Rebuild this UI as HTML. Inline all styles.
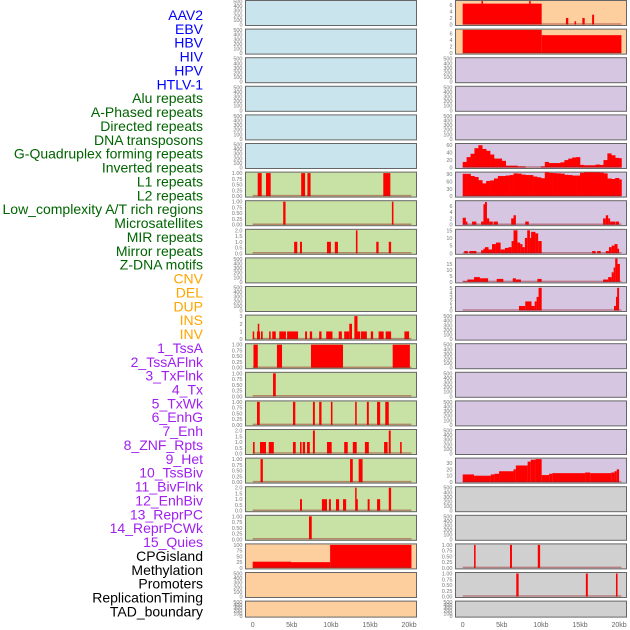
<!DOCTYPE html>
<html><head><meta charset="utf-8"><style>
html,body{margin:0;padding:0;background:#fff;width:630px;height:630px;overflow:hidden}
svg{display:block;font-family:"Liberation Sans",sans-serif}
</style></head><body>
<svg id="chart" width="630" height="630" viewBox="0 0 630 630"></svg>
<script>
// ---------- DATA ----------
const trackLabels=["AAV2","EBV","HBV","HIV","HPV","HTLV-1","Alu repeats","A-Phased repeats","Directed repeats","DNA transposons","G-Quadruplex forming repeats","Inverted repeats","L1 repeats","L2 repeats","Low_complexity A/T rich regions","Microsatellites","MIR repeats","Mirror repeats","Z-DNA motifs","CNV","DEL","DUP","INS","INV","1_TssA","2_TssAFlnk","3_TxFlnk","4_Tx","5_TxWk","6_EnhG","7_Enh","8_ZNF_Rpts","9_Het","10_TssBiv","11_BivFlnk","12_EnhBiv","13_ReprPC","14_ReprPCWk","15_Quies","CPGisland","Methylation","Promoters","ReplicationTiming","TAD_boundary"];
const labelGroups=[6,13,5,15,5];
const xTickKb=[0,5,10,15,20];
const xTickLabels=["0","5kb","10kb","15kb","20kb"];
// segments [startKb,endKb,value]
const leftRow6=[[0.64,1.15,1],[1.7,2.3,1],[6.2,6.7,1],[7.0,7.4,1],[16.7,17.6,1]];
const leftRow7=[[3.9,4.2,1],[17.8,18.0,1]];
const leftRow8=[[5.3,5.7,1],[6.05,6.3,1],[9.5,10.0,1],[10.5,10.9,1],[13.2,13.4,2],[15.8,16.1,1],[17.4,17.7,1]];
const leftRow11=[[0,0.13,1],[0.55,0.93,1],[0.65,0.8,2],[1.06,1.28,1],[2.1,2.3,1],[2.5,2.95,1],[3.4,4.25,1],[4.4,5.8,1],[6.7,6.95,1],[7.3,7.6,1],[8.5,8.8,1],[9.4,10.2,1],[11.0,11.4,1],[11.7,12.35,1],[12.35,12.7,2],[13.0,13.4,3],[13.4,13.75,1],[13.85,14.6,1],[15.1,15.4,1],[16.1,16.75,1],[17.0,17.7,1],[19.4,20.0,1]];
const leftRow12=[[0.1,0.65,1],[3.1,3.75,1],[7.45,11.55,1],[17.9,20.1,1]];
const leftRow13=[[2.6,2.95,1]];
const leftRow14=[[0.55,0.9,1],[5.15,5.45,1],[7.7,7.95,1],[8.5,8.8,1],[10.0,10.2,1],[13.1,13.3,1],[14.6,14.85,1],[15.9,16.3,1],[16.95,17.4,1]];
const leftRow15=[[0.04,0.25,1],[0.93,1.7,1],[2.05,2.7,1],[5.15,5.5,1],[6.05,6.25,1],[6.4,6.7,1],[6.95,7.3,1],[7.7,7.95,2],[9.5,10.1,1],[11.7,12.15,1],[12.8,13.3,1],[14.35,14.85,1],[16.8,17.25,1],[17.4,17.65,2],[18.85,19.05,1]];
const leftRow16=[[1.0,1.3,1],[12.45,12.8,1],[13.55,14.05,1]];
const leftRow17=[[6.05,6.3,1],[8.85,9.5,1],[9.75,10.0,1],[10.65,11.05,1],[11.55,11.95,1],[13.1,13.25,2],[13.25,13.4,1],[14.7,14.95,1],[15.9,16.3,1],[17.4,17.7,2]];
const leftRow18=[[7.2,7.55,1]];
const cpgIsland=[[0,4.9,27],[4.9,9.9,25],[9.9,20.3,100]];
const rightRow0=[[0,10.1,6.4],[2.4,2.6,7.2],[8.5,8.7,7.2],[13.2,13.5,2],[14.3,14.5,1],[15.3,15.6,2],[16.55,16.8,3]];
const rightRow1=[[0,10.1,7.1],[10.1,20.3,5.5]];
const g4Values=[15,28,37,52,60,50,45,35,24,24,18,5,5,5,3,3,0,0,0,0,3,15,12,12,12,14,20,24,27,28,7,6,6,6,8,7,20,38,33,26,25];
const l1Values=[91,91,82,78,65,52,62,64,72,82,82,84,86,93,92,88,86,86,80,77,73,97,95,94,93,92,87,86,84,84,95,97,97,97,97,96,93,72,70,74,68];
const rightRow7=[[0,0.4,2.2],[0.4,0.6,1],[1.2,1.75,1],[2.35,2.65,1],[2.65,2.85,6.5],[2.85,3.1,7.2],[3.1,3.4,2],[3.4,3.85,1],[3.95,4.5,1],[6.2,6.5,2],[6.5,6.8,3],[8.0,8.45,1],[17.95,18.3,2],[18.3,18.6,3],[18.6,18.85,2],[18.85,19.5,1],[19.55,20.0,1]];
const rightRow8=[[0.2,0.65,1.5],[0.85,1.75,1.5],[2.35,2.65,2],[2.65,2.85,3],[2.85,3.3,4],[3.3,3.75,2.5],[3.75,4.25,6],[4.25,4.85,7],[4.85,5.4,2.5],[5.4,5.85,3.5],[5.85,6.25,4],[6.25,6.5,8],[6.5,7.0,15],[7.0,7.35,7],[7.35,7.65,6],[7.65,7.95,4],[7.95,8.25,10],[8.25,8.6,15],[8.6,8.75,10],[8.75,9.3,14],[9.3,9.65,13],[9.65,10.1,8],[16.55,17.0,1.5],[17.2,17.65,1.5],[18.3,18.7,1.5],[18.7,19.05,4],[19.05,19.4,5],[19.4,19.8,6],[19.8,20.0,3]];
const rightRow9=[[0,0.6,0.5],[0.6,1.45,2],[1.45,2.2,4],[2.2,2.45,3],[2.45,3.25,3],[4.35,5.2,2.5],[6.4,6.8,3],[6.8,7.45,2],[9.55,10.1,2.5],[17.95,18.6,2],[18.6,19.05,4],[19.05,19.3,8],[19.3,19.5,12],[19.5,19.8,19.5],[19.8,20.1,15]];
const rightRow10=[[7.2,8.0,1],[8.0,8.8,2],[8.8,9.2,1],[9.2,9.45,2],[9.45,9.7,3],[9.7,10.1,5],[19.35,19.6,1],[19.6,19.75,3],[19.75,20.0,5]];
const rightRow16=[[0,1.45,12],[1.45,3.6,10],[3.6,4.05,12],[4.05,4.65,13],[4.65,6.5,17],[6.5,6.8,20],[6.8,8.3,26],[8.3,8.7,32],[8.7,9.3,35],[9.3,10.1,36],[10.1,11.05,11],[11.05,11.45,13],[11.45,15.65,14],[15.65,16.3,15],[16.3,19.0,14],[19.0,19.4,15],[19.4,19.7,17],[19.7,20.0,20]];
const rightRow19=[[1.45,1.65,1],[6.05,6.3,1],[9.6,9.9,1]];
const rightRow20=[[6.85,7.15,1],[15.75,16.0,1],[19.6,19.8,1]];

// ---------- LAYOUT ----------
const NS="http://www.w3.org/2000/svg";
const svg=document.getElementById("chart");
function mk(tag,attrs,parent){const e=document.createElementNS(NS,tag);for(const k in attrs)e.setAttribute(k,attrs[k]);(parent||svg).appendChild(e);return e;}
const colX=[245.5,455.5], panelW=171;
function rowTop(r){return 0.5+28.6*r;}
function xScale(col,kb){return colX[col]+7.2+kb*7.82;}
const C={blue:"#c9e4ec",green:"#c8e1a5",orange:"#fecf9e",purple:"#d6c6e2",gray:"#d0d0d0"};
const E500=[0,100,200,300,400,500];
const T01=[0,0.25,0.5,0.75,1],T02=[0,0.5,1,1.5,2];
const panels=[];
function P(col,row,bg,ymax,ticks,dec,kind,data,name){panels.push({col,row,bg,ymax,ticks,dec,kind,data,name});}
for(let r=0;r<6;r++)P(0,r,C.blue,500,E500,0,null,null,"left-empty-"+r);
P(0,6,C.green,1,T01,2,"seg",leftRow6,"left-row-6");
P(0,7,C.green,1,T01,2,"seg",leftRow7,"left-row-7");
P(0,8,C.green,2,T02,1,"seg",leftRow8,"left-row-8");
P(0,9,C.green,500,E500,0,null,null,"left-empty-9");
P(0,10,C.green,500,E500,0,null,null,"left-empty-10");
P(0,11,C.green,3,[0,1,2,3],0,"seg",leftRow11,"left-row-11");
P(0,12,C.green,1,T01,2,"seg",leftRow12,"left-row-12");
P(0,13,C.green,1,T01,2,"seg",leftRow13,"left-row-13");
P(0,14,C.green,1,T01,2,"seg",leftRow14,"left-row-14");
P(0,15,C.green,2,T02,1,"seg",leftRow15,"left-row-15");
P(0,16,C.green,1,T01,2,"seg",leftRow16,"left-row-16");
P(0,17,C.green,2,T02,1,"seg",leftRow17,"left-row-17");
P(0,18,C.green,1,T01,2,"seg",leftRow18,"left-row-18");
P(0,19,C.orange,100,[0,25,50,75,100],0,"seg",cpgIsland,"cpg-island-track");
P(0,20,C.orange,500,E500,0,null,null,"left-empty-20");
P(0,21,C.orange,500,E500,0,null,null,"left-empty-21");
P(1,0,C.orange,7.05,[0,2,4,6],0,"seg",rightRow0,"right-row-0");
P(1,1,C.orange,7.05,[0,2,4,6],0,"seg",rightRow1,"right-row-1");
for(let r=2;r<5;r++)P(1,r,C.purple,500,E500,0,null,null,"right-empty-"+r);
P(1,5,C.purple,62,[0,20,40,60],0,"bin",g4Values,"g-quadruplex-track");
P(1,6,C.purple,94,[0,30,60,90],0,"bin",l1Values,"l1-track");
P(1,7,C.purple,7.3,[0,2,4,6],0,"seg",rightRow7,"right-row-7");
P(1,8,C.purple,15,[0,5,10,15],0,"seg",rightRow8,"right-row-8");
P(1,9,C.purple,19.2,[0,5,10,15],0,"seg",rightRow9,"right-row-9");
P(1,10,C.purple,5.07,[0,1,2,3,4,5],0,"seg",rightRow10,"right-row-10");
for(let r=11;r<16;r++)P(1,r,C.purple,500,E500,0,null,null,"right-empty-"+r);
P(1,16,C.purple,36,[0,10,20,30],0,"seg",rightRow16,"right-row-16");
P(1,17,C.gray,500,E500,0,null,null,"right-empty-17");
P(1,18,C.gray,500,E500,0,null,null,"right-empty-18");
P(1,19,C.gray,1,T01,2,"seg",rightRow19,"right-row-19");
P(1,20,C.gray,1,T01,2,"seg",rightRow20,"right-row-20");
P(1,21,C.gray,500,E500,0,null,null,"right-empty-21");

panels.forEach(p=>{
  const top=rowTop(p.row), h=p.row===21?16:25, x0=colX[p.col];
  const g=mk("g",{});
  
  
  mk("rect",{x:x0,y:top,width:panelW,height:h,fill:p.bg,stroke:"#666","stroke-width":1},g);
  const y=v=>top+h-1-Math.min(v,p.ymax*1.04)/p.ymax*(h-2);
  p.ticks.forEach(t=>{
    const tl=mk("text",{x:x0-3,y:y(t)+2,"text-anchor":"end","font-size":5.5,fill:"#777"},g);
    tl.textContent=t.toFixed(p.dec);
    
    
  });
  if(!p.kind)return;
  if(p.kind==="seg"){
    p.data.forEach(s=>{
      const a=xScale(p.col,s[0]),b=xScale(p.col,s[1]);
      const r=mk("rect",{x:a,y:y(s[2]),width:Math.max(b-a,1.5),height:y(0)-y(s[2]),fill:"#ff0000"},g);
      
      
    });
  }else{
    p.data.forEach((v,i)=>{
      const a=xScale(p.col,i*0.5),b=xScale(p.col,Math.min(i*0.5+0.5,20.3));
      const r=mk("rect",{x:a,y:y(v),width:b-a+0.3,height:y(0)-y(v),fill:"#ff0000"},g);
      
      
    });
  }
  const bl=mk("line",{x1:xScale(p.col,0),x2:xScale(p.col,20.3),y1:y(0)-0.5,y2:y(0)-0.5,stroke:"rgba(150,30,30,0.45)","stroke-width":1.5},g);
  
  
});

// x axis
[0,1].forEach(col=>{
  xTickKb.forEach((k,i)=>{
    const t=mk("text",{x:xScale(col,k),y:627,"text-anchor":"middle","font-size":7,fill:"#666"});
    t.textContent=xTickLabels[i];
    
    
  });
});

// labels
const groupColors=["#0000ff","#006400","#ffa500","#a020f0","#000000"];
let idx=0;
labelGroups.forEach((n,gi)=>{
  for(let j=0;j<n;j++,idx++){
    const t=mk("text",{x:203,y:15+13.87*idx+5,"text-anchor":"end","font-size":14,fill:groupColors[gi]});
    t.textContent=trackLabels[idx];
    
    
  }
});
</script>
</body></html>
